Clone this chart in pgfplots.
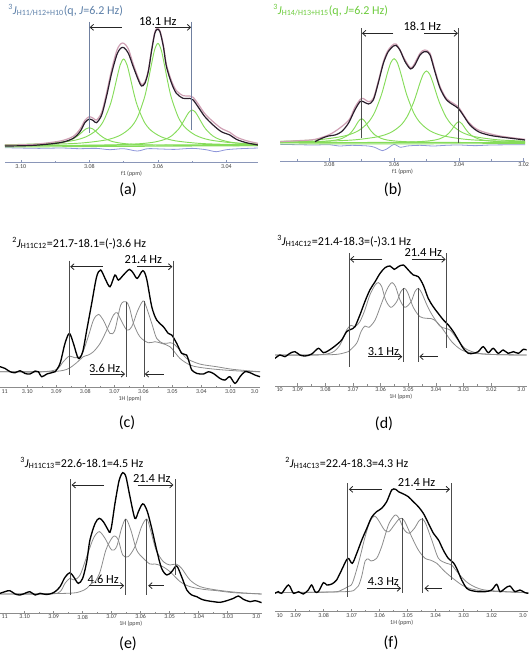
\documentclass[border=0pt]{standalone}
\usepackage{fontspec}
\setmainfont{Carlito}
\usepackage{pgfplots}
\pgfplotsset{compat=1.18}
\usetikzlibrary{arrows.meta}
\definecolor{gblack}{HTML}{2A1E2C}
\definecolor{gpink}{HTML}{CFA0B4}
\definecolor{ggreen}{HTML}{86DC5A}
\definecolor{gres}{HTML}{8E96DA}
\definecolor{gvl}{HTML}{7080A0}
\definecolor{ttlblue}{HTML}{5C7FA8}
\definecolor{ttlgreen}{HTML}{6CCB3C}
\definecolor{cgray}{HTML}{8C8C8C}
\definecolor{axcol}{HTML}{8A96B8}
\pgfplotsset{
  nmr/.style={scale only axis, anchor=south west, x dir=reverse,
    axis x line*=bottom, axis y line=none, ytick=\empty, clip mode=individual,
    tick align=inside, major tick length=2pt, minor tick length=1.3pt,
    every outer x axis line/.append style={draw=axcol, line width=0.6pt},
    tick style={draw=axcol, line width=0.4pt},
    minor tick style={draw=axcol, line width=0.4pt},
    tick label style={font=\fontsize{4.5}{5}\selectfont, text=black!75, inner sep=1pt},
    xlabel style={font=\fontsize{4.5}{5}\selectfont, text=black!75, inner sep=0pt, yshift=-0.5pt},
  },
  nmrgray/.style={nmr, every outer x axis line/.append style={draw=black!45}, tick style={draw=black!45}, minor tick style={draw=black!45}, xlabel={1H (ppm)}, minor x tick num=1},
  blk/.style={smooth, tension=0.5, gblack, line width=0.9pt},
  pnk/.style={smooth, tension=0.5, gpink, line width=0.9pt},
  grn/.style={smooth, tension=0.5, ggreen, line width=0.7pt},
  res/.style={smooth, tension=0.5, gres, line width=0.6pt},
  spc/.style={smooth, tension=0.5, black, line width=1pt},
  gry/.style={smooth, tension=0.5, cgray, line width=0.6pt},
}
\tikzset{harr/.style={-{Straight Barb[length=2.5pt,width=4.5pt]}, line width=0.6pt, black!85},
  vl/.style={black!70, line width=0.45pt},
  hz/.style={font=\fontsize{9.3}{10}\selectfont, inner sep=0pt},
  plab/.style={font=\fontsize{12}{13}\selectfont},
  edge/.style={font=\fontsize{4.5}{5}\selectfont, text=black!75, inner sep=1pt},
  ttl/.style={font=\fontsize{9}{10}\selectfont, anchor=west, inner sep=0pt}}
\begin{document}
\begin{tikzpicture}
\useasboundingbox (0,0) rectangle (398.25pt,492pt);
% ---------------- (a)
\begin{axis}[nmr, at={(3.75pt,369.98pt)}, width=189.75pt, height=107.75pt,
  xmin=3.0308, xmax=3.1046, ymin=-51, ymax=380,
  xtick={3.04,3.06,3.08,3.10}, xticklabels={3.04,3.06,3.08,3.10}, minor xtick={3.05,3.07,3.09}, xlabel={f1 (ppm)}]
\addplot[res] coordinates {(3.1046,-6) (3.095,-8) (3.088,-7) (3.083,-9) (3.078,-8) (3.074,-12) (3.070,-9) (3.066,-16) (3.063,-9) (3.059,-10) (3.055,-11) (3.050,-8) (3.046,-12) (3.043,-18) (3.040,-12) (3.036,-9) (3.0308,-7)};
\addplot[grn] coordinates {(3.1046,-1) (3.0308,4)};
\addplot[grn] coordinates {(3.1046,-4) (3.0308,0)};
\addplot[grn] coordinates {(3.1046,1.2) (3.0950,3.1) (3.0910,5.5) (3.0880,9.5) (3.0860,14.9) (3.0840,24.9) (3.0830,32.6) (3.0820,41.8) (3.0810,50.3) (3.0800,54) (3.0790,50.3) (3.0780,41.8) (3.0770,32.6) (3.0760,24.9) (3.0740,14.9) (3.0720,9.5) (3.0690,5.5) (3.0650,3.1) (3.0580,1.5) (3.0500,0.8) (3.0400,0.5) (3.0308,0.3)};
\addplot[grn] coordinates {(3.1046,2.9) (3.1000,3.9) (3.0920,7.0) (3.0850,14.8) (3.0810,26.5) (3.0780,45.8) (3.0760,71.5) (3.0740,119.9) (3.0730,156.8) (3.0720,201.2) (3.0710,242.3) (3.0700,260) (3.0690,242.3) (3.0680,201.2) (3.0670,156.8) (3.0660,119.9) (3.0640,71.5) (3.0620,45.8) (3.0590,26.5) (3.0550,14.8) (3.0480,7.0) (3.0400,3.9) (3.0308,2.3)};
\addplot[grn] coordinates {(3.1046,2.1) (3.0900,4.6) (3.0820,8.3) (3.0750,17.5) (3.0710,31.3) (3.0680,54.0) (3.0660,84.4) (3.0640,141.5) (3.0630,185.1) (3.0620,237.6) (3.0610,286.1) (3.0600,307) (3.0590,286.1) (3.0580,237.6) (3.0570,185.1) (3.0560,141.5) (3.0540,84.4) (3.0520,54.0) (3.0490,31.3) (3.0450,17.5) (3.0380,8.3) (3.0308,4.9)};
\addplot[grn] coordinates {(3.1046,0.5) (3.0900,0.9) (3.0800,1.6) (3.0720,2.9) (3.0650,6.1) (3.0610,10.9) (3.0580,18.8) (3.0560,29.4) (3.0540,49.3) (3.0530,64.5) (3.0520,82.8) (3.0510,99.7) (3.0500,107) (3.0490,99.7) (3.0480,82.8) (3.0470,64.5) (3.0460,49.3) (3.0440,29.4) (3.0420,18.8) (3.0390,10.9) (3.0350,6.1) (3.0308,3.8)};
\addplot[pnk] coordinates {(3.1046,2) (3.0963,4) (3.0885,14) (3.0847,28) (3.0827,50) (3.0813,76) (3.0800,87) (3.0788,82) (3.0779,77) (3.0764,100) (3.0750,157) (3.0735,228) (3.0720,285) (3.0709,305) (3.0699,307) (3.0686,290) (3.0672,245) (3.0657,203) (3.0648,184) (3.0638,191) (3.0628,226) (3.0618,291) (3.0609,341) (3.0602,352) (3.0594,345) (3.0584,302) (3.0575,243) (3.0560,194) (3.0546,165) (3.0526,150) (3.0507,149) (3.0497,145) (3.0483,126) (3.0463,96) (3.0439,72) (3.0415,52) (3.0390,40) (3.0371,26) (3.0342,15) (3.0308,7)};
\addplot[blk] coordinates {(3.1046,-1) (3.0963,1) (3.0885,9) (3.0847,22) (3.0827,42) (3.0813,69) (3.0800,80) (3.0788,75) (3.0779,69) (3.0764,92) (3.0750,147) (3.0735,217) (3.0720,272) (3.0709,292) (3.0699,294) (3.0686,277) (3.0672,237) (3.0657,197) (3.0648,179) (3.0638,187) (3.0628,222) (3.0618,287) (3.0609,337) (3.0602,349) (3.0594,342) (3.0584,297) (3.0575,237) (3.0560,187) (3.0546,157) (3.0526,142) (3.0507,142) (3.0497,137) (3.0483,117) (3.0463,87) (3.0439,62) (3.0415,42) (3.0390,32) (3.0371,19) (3.0342,9) (3.0308,2)};
\draw[gvl, line width=0.6pt] (axis cs:3.0800,372) -- (axis cs:3.0800,37);
\draw[gvl, line width=0.6pt] (axis cs:3.0502,372) -- (axis cs:3.0502,47);
\draw[harr] (axis cs:3.0706,355) -- (axis cs:3.0799,355);
\draw[harr] (axis cs:3.0609,355) -- (axis cs:3.0503,355);
\node[hz] at (axis cs:3.0600,373) {18.1 Hz};
\end{axis}
% ---------------- (b)
\begin{axis}[nmr, at={(210pt,371.25pt)}, width=183.75pt, height=106.5pt,
  xmin=3.0196, xmax=3.0952, ymin=-53, ymax=373,
  xtick={3.02,3.04,3.06,3.08}, xticklabels={3.02,3.04,3.06,3.08}, minor xtick={3.03,3.05,3.07,3.09}, xlabel={f1 (ppm)}]
\addplot[res] coordinates {(3.0952,-3) (3.085,-5) (3.080,-4) (3.077,-8) (3.073,-6) (3.068,-8) (3.066,-12) (3.0635,-22) (3.0615,-12) (3.0600,-3) (3.0580,-12) (3.0560,-8) (3.052,-6) (3.048,-8) (3.044,-6) (3.040,-5) (3.035,-7) (3.030,-5) (3.0196,-4)};
\addplot[grn] coordinates {(3.0952,2) (3.0196,2)};
\addplot[grn] coordinates {(3.0952,-2) (3.0196,-1)};
\addplot[grn] coordinates {(3.0952,2.9) (3.0920,3.2) (3.0850,4.4) (3.0810,6.4) (3.0780,9.8) (3.0760,14.9) (3.0740,25.7) (3.0730,35.6) (3.0720,49.7) (3.0710,65.9) (3.0700,74) (3.0690,65.9) (3.0680,49.7) (3.0670,35.6) (3.0660,25.7) (3.0640,14.9) (3.0620,9.8) (3.0590,6.4) (3.0550,4.4) (3.0480,3.2) (3.0400,2.6) (3.0300,2.3) (3.0196,2.2)};
\addplot[grn] coordinates {(3.0952,6.1) (3.0900,7.5) (3.0820,12.1) (3.0750,22.8) (3.0710,38.0) (3.0680,62.5) (3.0660,92.7) (3.0640,142.9) (3.0630,176.4) (3.0620,212.4) (3.0610,242.2) (3.0600,254) (3.0590,242.2) (3.0580,212.4) (3.0570,176.4) (3.0560,142.9) (3.0540,92.7) (3.0520,62.5) (3.0490,38.0) (3.0450,22.8) (3.0380,12.1) (3.0300,7.5) (3.0196,5.1)};
\addplot[grn] coordinates {(3.0952,4.1) (3.0850,5.5) (3.0800,6.7) (3.0720,10.6) (3.0650,19.8) (3.0610,32.7) (3.0580,53.6) (3.0560,79.4) (3.0540,122.2) (3.0530,150.8) (3.0520,181.5) (3.0510,206.9) (3.0500,217) (3.0490,206.9) (3.0480,181.5) (3.0470,150.8) (3.0460,122.2) (3.0440,79.4) (3.0420,53.6) (3.0390,32.7) (3.0350,19.8) (3.0280,10.6) (3.0196,6.6)};
\addplot[grn] coordinates {(3.0952,2.2) (3.0800,2.3) (3.0700,2.5) (3.0620,3.0) (3.0550,4.1) (3.0510,5.8) (3.0480,8.9) (3.0460,13.3) (3.0440,22.7) (3.0430,31.4) (3.0420,43.7) (3.0410,57.9) (3.0400,65) (3.0390,57.9) (3.0380,43.7) (3.0370,31.4) (3.0360,22.7) (3.0340,13.3) (3.0320,8.9) (3.0290,5.8) (3.0250,4.1) (3.0196,3.2)};
\addplot[pnk] coordinates {(3.0952,5) (3.0895,8) (3.0844,12) (3.0792,30) (3.0741,68) (3.0721,108) (3.0700,135) (3.0679,125) (3.0664,135) (3.0649,185) (3.0633,245) (3.0618,280) (3.0594,298) (3.0566,250) (3.0546,227) (3.0520,270) (3.0505,280) (3.0489,270) (3.0474,220) (3.0458,170) (3.0438,134) (3.0417,120) (3.0402,110) (3.0371,65) (3.0340,40) (3.0279,23) (3.0196,12)};
\addplot[blk] coordinates {(3.0844,5) (3.0823,15) (3.0803,22) (3.0782,25) (3.0762,35) (3.0741,60) (3.0721,100) (3.0705,125) (3.0695,125) (3.0679,118) (3.0664,130) (3.0649,180) (3.0633,240) (3.0618,275) (3.0602,292) (3.0594,294) (3.0582,280) (3.0566,245) (3.0549,223) (3.0536,235) (3.0520,265) (3.0507,275) (3.0500,275) (3.0489,265) (3.0474,215) (3.0458,165) (3.0438,130) (3.0417,115) (3.0402,105) (3.0387,85) (3.0366,55) (3.0340,35) (3.0309,25) (3.0279,20) (3.0238,15) (3.0196,10)};
\draw[vl] (axis cs:3.0700,345) -- (axis cs:3.0700,15);
\draw[vl] (axis cs:3.0402,345) -- (axis cs:3.0402,0);
\draw[harr] (axis cs:3.0602,330) -- (axis cs:3.0699,330);
\draw[harr] (axis cs:3.0507,330) -- (axis cs:3.0403,330);
\node[hz] at (axis cs:3.0513,350) {18.1 Hz};
\end{axis}
% ---------------- (c)
\begin{axis}[nmrgray, at={(0pt,201.2pt)}, width=195pt, height=100.75pt,
  xmin=3.0198, xmax=3.1094, ymin=-48, ymax=355,
  xtick={3.03,3.04,3.05,3.06,3.07,3.08,3.09,3.10}, xticklabels={3.03,3.04,3.05,3.06,3.07,3.08,3.09,3.10}]
\addplot[gry] coordinates {(3.1094,0) (3.0950,0) (3.0899,7) (3.0876,30) (3.0855,47) (3.0836,42) (3.0813,50) (3.0790,105) (3.0772,155) (3.0755,172) (3.0738,155) (3.0715,115) (3.0698,125) (3.0678,200) (3.0660,210) (3.0648,193) (3.0634,145) (3.0612,105) (3.0583,87) (3.0560,90) (3.0537,85) (3.0508,75) (3.0474,40) (3.0439,20) (3.0405,13) (3.0347,7) (3.0267,2) (3.0198,0)};
\addplot[gry] coordinates {(3.1094,0) (3.0922,0) (3.0864,7) (3.0830,27) (3.0807,45) (3.0790,50) (3.0772,60) (3.0749,85) (3.0726,125) (3.0703,170) (3.0690,177) (3.0680,160) (3.0657,125) (3.0640,135) (3.0621,180) (3.0606,207) (3.0598,212) (3.0588,190) (3.0571,145) (3.0554,100) (3.0531,85) (3.0508,87) (3.0497,85) (3.0474,65) (3.0451,40) (3.0405,23) (3.0347,15) (3.0290,7) (3.0198,0)};
\addplot[spc] coordinates {(3.1094,15) (3.1077,10) (3.1059,0) (3.1042,-3) (3.1025,3) (3.1008,-5) (3.0991,-7) (3.0973,2) (3.0962,0) (3.0950,-15) (3.0933,-7) (3.0916,-3) (3.0904,0) (3.0887,25) (3.0870,85) (3.0855,115) (3.0841,85) (3.0824,40) (3.0809,60) (3.0795,125) (3.0778,205) (3.0761,285) (3.0747,305) (3.0732,280) (3.0715,255) (3.0698,290) (3.0686,275) (3.0669,290) (3.0648,307) (3.0634,295) (3.0621,280) (3.0602,303) (3.0589,280) (3.0571,195) (3.0554,155) (3.0531,135) (3.0514,115) (3.0502,110) (3.0485,85) (3.0468,55) (3.0451,50) (3.0439,20) (3.0433,5) (3.0416,-5) (3.0393,-7) (3.0376,0) (3.0359,-5) (3.0336,-20) (3.0319,-25) (3.0302,-15) (3.0284,-35) (3.0267,-15) (3.0250,0) (3.0232,-3) (3.0215,-10) (3.0198,-15)};
\draw[vl] (axis cs:3.0855,333) -- (axis cs:3.0855,-10);
\draw[vl] (axis cs:3.0497,333) -- (axis cs:3.0497,43);
\draw[vl] (axis cs:3.0660,210) -- (axis cs:3.0660,-15);
\draw[vl] (axis cs:3.0598,212) -- (axis cs:3.0598,-15);
\draw[harr] (axis cs:3.0740,315) -- (axis cs:3.0852,315);
\draw[harr] (axis cs:3.0621,315) -- (axis cs:3.0500,315);
\node[hz] at (axis cs:3.0600,337) {21.4 Hz};
\draw[harr] (axis cs:3.0784,-7) -- (axis cs:3.0663,-7);
\draw[harr] (axis cs:3.0529,-7) -- (axis cs:3.0595,-7);
\node[hz] at (axis cs:3.0733,10) {3.6 Hz};
\node[edge, anchor=north west] at (rel axis cs:0,0) {11};
\node[edge, anchor=north east] at (rel axis cs:1,0) {3.0};
\end{axis}
% ---------------- (d)
\begin{axis}[nmrgray, at={(206.25pt,202.5pt)}, width=188.75pt, height=102pt,
  xmin=3.0072, xmax=3.0982, ymin=-93, ymax=315,
  xtick={3.02,3.03,3.04,3.05,3.06,3.07,3.08,3.09}, xticklabels={3.02,3.03,3.04,3.05,3.06,3.07,3.08,3.09}]
\addplot[gry] coordinates {(3.0982,0) (3.0837,0) (3.0777,7) (3.0747,30) (3.0723,75) (3.0707,89) (3.0693,85) (3.0675,100) (3.0657,135) (3.0639,180) (3.0620,210) (3.0608,217) (3.0596,205) (3.0582,165) (3.0563,143) (3.0542,160) (3.0527,190) (3.0514,200) (3.0502,187) (3.0482,143) (3.0458,115) (3.0434,110) (3.0416,109) (3.0398,100) (3.0373,75) (3.0343,40) (3.0307,15) (3.0259,5) (3.0175,1) (3.0072,0)};
\addplot[gry] coordinates {(3.0982,0) (3.0777,1) (3.0729,7) (3.0717,10) (3.0687,35) (3.0671,70) (3.0657,87) (3.0642,83) (3.0620,105) (3.0599,150) (3.0578,195) (3.0566,212) (3.0558,217) (3.0546,205) (3.0530,165) (3.0512,143) (3.0490,160) (3.0476,190) (3.0464,200) (3.0452,187) (3.0430,145) (3.0410,115) (3.0386,87) (3.0367,80) (3.0349,75) (3.0325,50) (3.0295,20) (3.0247,5) (3.0175,1) (3.0072,0)};
\addplot[spc] coordinates {(3.0982,-10) (3.0964,0) (3.0946,-5) (3.0928,5) (3.0910,10) (3.0892,0) (3.0873,-3) (3.0849,3) (3.0825,20) (3.0807,7) (3.0789,13) (3.0765,27) (3.0741,45) (3.0723,70) (3.0707,77) (3.0693,85) (3.0675,120) (3.0657,160) (3.0639,195) (3.0620,220) (3.0602,245) (3.0584,262) (3.0566,267) (3.0551,257) (3.0536,265) (3.0518,270) (3.0500,255) (3.0482,240) (3.0464,235) (3.0446,210) (3.0428,170) (3.0410,145) (3.0392,125) (3.0373,105) (3.0355,90) (3.0337,70) (3.0319,45) (3.0301,20) (3.0283,5) (3.0265,5) (3.0247,10) (3.0229,25) (3.0211,7) (3.0193,20) (3.0175,5) (3.0157,15) (3.0139,5) (3.0120,10) (3.0102,5) (3.0084,17) (3.0072,15)};
\draw[vl] (axis cs:3.0714,305) -- (axis cs:3.0714,-35);
\draw[vl] (axis cs:3.0361,305) -- (axis cs:3.0361,20);
\draw[vl] (axis cs:3.0518,200) -- (axis cs:3.0518,-20);
\draw[vl] (axis cs:3.0464,200) -- (axis cs:3.0464,-20);
\draw[harr] (axis cs:3.0594,287) -- (axis cs:3.0711,287);
\draw[harr] (axis cs:3.0488,287) -- (axis cs:3.0365,287);
\node[hz] at (axis cs:3.0446,307) {21.4 Hz};
\draw[harr] (axis cs:3.0645,-5) -- (axis cs:3.0522,-5);
\draw[harr] (axis cs:3.0394,-5) -- (axis cs:3.0460,-5);
\node[hz] at (axis cs:3.0590,10) {3.1 Hz};
\node[edge, anchor=north west] at (rel axis cs:0,0) {10};
\node[edge, anchor=north east] at (rel axis cs:1,0) {3.0};
\end{axis}
% ---------------- (e)
\begin{axis}[nmrgray, at={(0pt,32pt)}, width=196.25pt, height=110pt,
  xmin=3.0183, xmax=3.1085, ymin=-58, ymax=382,
  xtick={3.03,3.04,3.05,3.06,3.07,3.08,3.09,3.10}, xticklabels={3.03,3.04,3.05,3.06,3.07,3.08,3.09,3.10}]
\addplot[gry] coordinates {(3.1085,0) (3.0913,0) (3.0878,7) (3.0861,32) (3.0844,47) (3.0830,42) (3.0809,57) (3.0786,112) (3.0763,167) (3.0743,187) (3.0723,167) (3.0700,132) (3.0683,142) (3.0666,197) (3.0651,225) (3.0634,192) (3.0614,132) (3.0591,107) (3.0568,90) (3.0551,90) (3.0528,84) (3.0499,67) (3.0464,37) (3.0430,22) (3.0384,14) (3.0338,10) (3.0280,4) (3.0183,0)};
\addplot[gry] coordinates {(3.1085,0) (3.0855,2) (3.0809,7) (3.0786,17) (3.0769,32) (3.0757,37) (3.0740,67) (3.0720,132) (3.0700,167) (3.0689,174) (3.0677,162) (3.0662,117) (3.0643,112) (3.0620,142) (3.0597,202) (3.0579,225) (3.0566,192) (3.0547,132) (3.0522,97) (3.0499,87) (3.0478,90) (3.0459,77) (3.0430,42) (3.0395,22) (3.0338,12) (3.0257,4) (3.0183,0)};
\addplot[spc] coordinates {(3.1085,2) (3.1068,7) (3.1051,10) (3.1033,0) (3.1016,-3) (3.0999,2) (3.0982,7) (3.0964,-3) (3.0947,2) (3.0930,-1) (3.0913,0) (3.0895,7) (3.0878,22) (3.0861,50) (3.0844,64) (3.0830,50) (3.0815,32) (3.0800,47) (3.0786,97) (3.0775,162) (3.0757,212) (3.0743,227) (3.0729,217) (3.0711,190) (3.0706,185) (3.0700,205) (3.0689,270) (3.0677,330) (3.0671,350) (3.0662,364) (3.0651,352) (3.0637,292) (3.0620,227) (3.0608,247) (3.0597,267) (3.0589,269) (3.0577,247) (3.0562,197) (3.0545,132) (3.0528,77) (3.0510,57) (3.0493,67) (3.0476,84) (3.0459,52) (3.0441,12) (3.0424,-3) (3.0407,-8) (3.0390,-16) (3.0372,-20) (3.0349,-23) (3.0326,-25) (3.0303,-20) (3.0280,-13) (3.0263,-6) (3.0246,-16) (3.0223,-23) (3.0206,-20) (3.0183,-26)};
\draw[vl] (axis cs:3.0844,344) -- (axis cs:3.0844,-3);
\draw[vl] (axis cs:3.0482,344) -- (axis cs:3.0482,57);
\draw[vl] (axis cs:3.0652,225) -- (axis cs:3.0652,-3);
\draw[vl] (axis cs:3.0579,225) -- (axis cs:3.0579,-3);
\draw[harr] (axis cs:3.0726,327) -- (axis cs:3.0838,327);
\draw[harr] (axis cs:3.0611,327) -- (axis cs:3.0487,327);
\node[hz] at (axis cs:3.0562,347) {21.4 Hz};
\draw[harr] (axis cs:3.0777,25) -- (axis cs:3.0657,25);
\draw[harr] (axis cs:3.0520,25) -- (axis cs:3.0574,25);
\node[hz] at (axis cs:3.0729,44) {4.6 Hz};
\node[edge, anchor=north west] at (rel axis cs:0,0) {11};
\node[edge, anchor=north east] at (rel axis cs:1,0) {3.0};
\end{axis}
% ---------------- (f)
\begin{axis}[nmrgray, at={(206.25pt,33.25pt)}, width=190pt, height=103.75pt,
  xmin=3.0069, xmax=3.0974, ymin=-57, ymax=358,
  xtick={3.02,3.03,3.04,3.05,3.06,3.07,3.08,3.09}, xticklabels={3.02,3.03,3.04,3.05,3.06,3.07,3.08,3.09}]
\addplot[gry] coordinates {(3.0974,0) (3.0771,2) (3.0736,8) (3.0714,18) (3.0698,28) (3.0676,88) (3.0652,168) (3.0635,213) (3.0619,230) (3.0605,218) (3.0583,188) (3.0567,183) (3.0548,203) (3.0531,221) (3.0521,223) (3.0510,213) (3.0486,168) (3.0462,128) (3.0438,103) (3.0420,98) (3.0396,88) (3.0367,63) (3.0331,38) (3.0295,18) (3.0236,6) (3.0069,0)};
\addplot[gry] coordinates {(3.0974,0) (3.0724,3) (3.0688,10) (3.0676,20) (3.0664,50) (3.0652,95) (3.0640,101) (3.0631,95) (3.0611,103) (3.0593,138) (3.0569,203) (3.0551,228) (3.0542,233) (3.0531,223) (3.0512,188) (3.0495,178) (3.0476,193) (3.0460,215) (3.0448,221) (3.0436,208) (3.0414,158) (3.0390,103) (3.0361,88) (3.0343,83) (3.0319,58) (3.0283,28) (3.0224,8) (3.0069,0)};
\addplot[spc] coordinates {(3.0974,-2) (3.0962,3) (3.0950,-2) (3.0926,23) (3.0908,-2) (3.0890,3) (3.0873,-4) (3.0855,8) (3.0843,23) (3.0831,3) (3.0819,3) (3.0801,30) (3.0789,23) (3.0771,26) (3.0754,38) (3.0736,68) (3.0714,103) (3.0698,88) (3.0682,118) (3.0664,158) (3.0646,193) (3.0629,226) (3.0611,243) (3.0593,253) (3.0575,273) (3.0557,308) (3.0543,310) (3.0533,303) (3.0515,296) (3.0498,288) (3.0480,273) (3.0462,258) (3.0444,238) (3.0426,208) (3.0408,178) (3.0390,158) (3.0373,128) (3.0355,103) (3.0337,90) (3.0325,73) (3.0307,38) (3.0289,13) (3.0271,6) (3.0248,3) (3.0224,3) (3.0200,8) (3.0182,25) (3.0170,3) (3.0152,13) (3.0135,20) (3.0117,3) (3.0099,8) (3.0081,0) (3.0069,-2)};
\draw[vl] (axis cs:3.0714,328) -- (axis cs:3.0714,-12);
\draw[vl] (axis cs:3.0346,328) -- (axis cs:3.0346,38);
\draw[vl] (axis cs:3.0521,223) -- (axis cs:3.0521,0);
\draw[vl] (axis cs:3.0448,223) -- (axis cs:3.0448,0);
\draw[harr] (axis cs:3.0593,310) -- (axis cs:3.0710,310);
\draw[harr] (axis cs:3.0471,310) -- (axis cs:3.0349,310);
\node[hz] at (axis cs:3.0468,331) {21.4 Hz};
\draw[harr] (axis cs:3.0646,13) -- (axis cs:3.0524,13);
\draw[harr] (axis cs:3.0379,13) -- (axis cs:3.0440,13);
\node[hz] at (axis cs:3.0587,33) {4.3 Hz};
\node[edge, anchor=north west] at (rel axis cs:0,0) {10};
\node[edge, anchor=north east] at (rel axis cs:1,0) {3.0};
\end{axis}
% ---------------- titles and panel labels
\node[ttl, text=ttlblue] at (6pt,484.5pt) {\textsuperscript{3}\textit{J}\textsubscript{H11/H12+H10}(q, \textit{J}=6.2 Hz)};
\node[ttl, text=ttlgreen] at (204.75pt,484.5pt) {\textsuperscript{3}\textit{J}\textsubscript{H14/H13+H15}(q, \textit{J}=6.2 Hz)};
\node[ttl] at (9pt,309.75pt) {\textsuperscript{2}\textit{J}\textsubscript{H11C12}=21.7-18.1=(-)3.6 Hz};
\node[ttl] at (207.75pt,311.25pt) {\textsuperscript{3}\textit{J}\textsubscript{H14C12}=21.4-18.3=(-)3.1 Hz};
\node[ttl] at (15pt,144.75pt) {\textsuperscript{3}\textit{J}\textsubscript{H11C13}=22.6-18.1=4.5 Hz};
\node[ttl] at (213.75pt,144.75pt) {\textsuperscript{2}\textit{J}\textsubscript{H14C13}=22.4-18.3=4.3 Hz};
\node[plab] at (96pt,349.5pt) {(a)};
\node[plab] at (294.75pt,349.5pt) {(b)};
\node[plab] at (95.25pt,174.75pt) {(c)};
\node[plab] at (288pt,174pt) {(d)};
\node[plab] at (96pt,9pt) {(e)};
\node[plab] at (293.25pt,9.75pt) {(f)};
\end{tikzpicture}
\end{document}
